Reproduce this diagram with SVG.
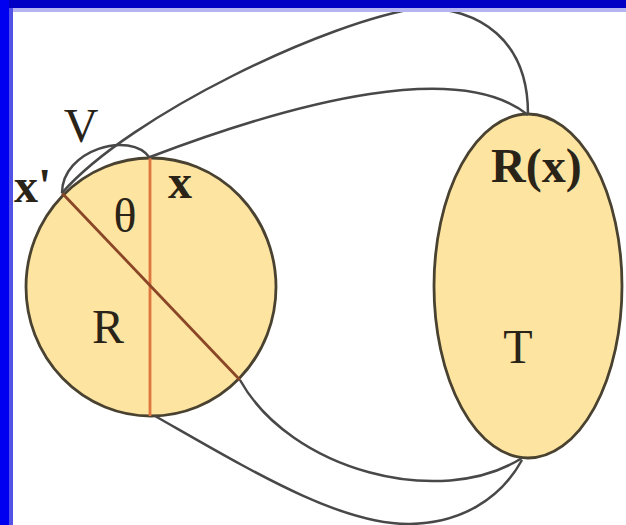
<svg xmlns="http://www.w3.org/2000/svg" width="626" height="525" viewBox="0 0 626 525">
<style>
.shape{fill:#fde4a0;stroke:#4a4230;stroke-width:2.8}
.conn{fill:none;stroke:#484848;stroke-width:2.5}
.lbl{font-family:"Liberation Serif","Times New Roman",serif;font-size:48px;fill:#2a2418}
.b{font-weight:bold}
</style>
<rect x="0" y="0" width="626" height="525" fill="#ffffff"/>
<g id="node-R">
<ellipse class="shape" cx="151" cy="287" rx="125" ry="129"/>
<line x1="150" y1="158" x2="150" y2="416" stroke="#de7640" stroke-width="2.8"/>
<line x1="62" y1="193" x2="240" y2="380" stroke="#8a4626" stroke-width="2.8"/>
<text class="lbl" x="108" y="343" text-anchor="middle">R</text>
<text class="lbl" x="125" y="232" text-anchor="middle">θ</text>
<text class="lbl b" x="180" y="198" text-anchor="middle">x</text>
</g>
<g id="node-T">
<ellipse class="shape" cx="528" cy="286" rx="94" ry="172"/>
<text class="lbl" x="518" y="363" text-anchor="middle">T</text>
<text class="lbl b" x="491" y="182">R(x)</text>
</g>
<g id="connectors">
<path class="conn" d="M62,193 C62,150 130,130 150,158"/>
<path class="conn" d="M62,193 C130,115 330,20 420,8 C480,8 528,40 528,114"/>
<path class="conn" d="M150,157 C300,100 460,60 528,115"/>
<path class="conn" d="M240,380 C290,470 440,510 522,458"/>
<path class="conn" d="M155,416 C250,470 340,525 410,524 C460,523 500,500 522,460"/>
</g>
<g id="labels">
<text class="lbl b" x="14" y="202">x'</text>
<text class="lbl" x="81" y="142" text-anchor="middle">V</text>
</g>
<g id="border">
<rect x="0" y="0" width="626" height="8" fill="#0000c4"/>
<rect x="0" y="8" width="626" height="4" fill="#b4b4f2"/>
<rect x="0" y="0" width="9" height="525" fill="#0000f0"/>
<rect x="9" y="8" width="4" height="517" fill="#5252e6"/>
</g>
</svg>
